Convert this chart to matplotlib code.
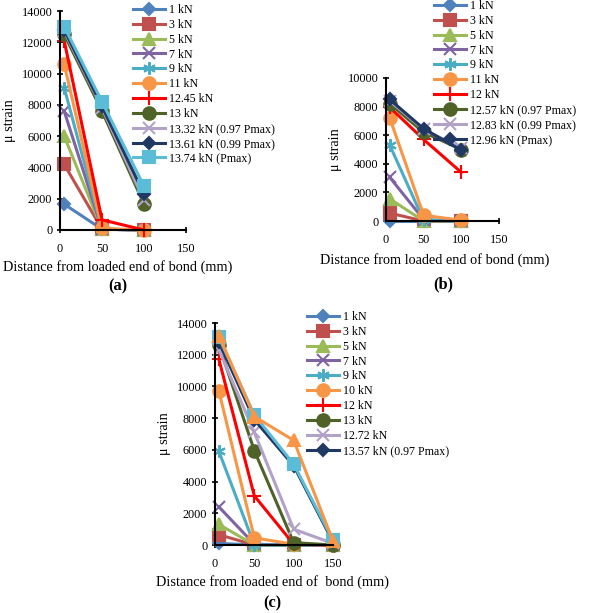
import numpy as np
import matplotlib
matplotlib.use("Agg")
import matplotlib.pyplot as plt

plt.rcParams['font.family'] = ['Liberation Serif', 'DejaVu Serif']

# distancias (mm)
dist_ab = [5, 50, 100]
dist_c = [5, 50, 100, 150]

# painel (a)
labels_a = ["1 kN", "3 kN", "5 kN", "7 kN", "9 kN", "11 kN", "12.45 kN", "13 kN",
            "13.32 kN (0.97 Pmax)", "13.61 kN (0.99 Pmax)", "13.74 kN (Pmax)"]
vals_a = [
    [1650, 50, 0],
    [4200, 50, 0],
    [6000, 50, 0],
    [7600, 50, 0],
    [9100, 50, 0],
    [10600, 100, 0],
    [12100, 650, 0],
    [12500, 7600, 1650],
    [12700, 7800, 1900],
    [12800, 7900, 2300],
    [13000, 8200, 2800],
]

# painel (b)
labels_b = ["1 kN", "3 kN", "5 kN", "7 kN", "9 kN", "11 kN", "12 kN",
            "12.57 kN (0.97 Pmax)", "12.83 kN (0.99 Pmax)", "12.96 kN (Pmax)"]
vals_b = [
    [0, 0, 0],
    [550, 0, 0],
    [1550, 0, 0],
    [3050, 100, 0],
    [5300, 50, 0],
    [7200, 400, 50],
    [7950, 5700, 3400],
    [8200, 6200, 5000],
    [8400, 6400, 5100],
    [8500, 6450, 4950],
]

# painel (c) - as duas ultimas series nao aparecem na legenda
labels_c = ["1 kN", "3 kN", "5 kN", "7 kN", "9 kN", "10 kN", "12 kN", "13 kN",
            "12.72 kN", "13.57 kN (0.97 Pmax)", "_sq", "_tri"]
vals_c = [
    [100, 0, 0, 0],
    [650, 0, 0, 0],
    [1300, 0, 0, 0],
    [2400, 50, 0, 0],
    [5900, 0, 0, 0],
    [9700, 450, 50, 0],
    [11700, 3100, 50, 0],
    [12600, 5950, 150, 0],
    [12300, 7100, 1000, 100],
    [12800, 7900, 5000, 200],
    [13100, 8200, 5100, 300],
    [13200, 8100, 6600, 250],
]

# estilos tipo excel
ast = (6, 2, 0)
sty = [
    ("#4F81BD", "D", 6),
    ("#C0504D", "s", 8),
    ("#9BBB59", "^", 8),
    ("#8064A2", "x", 8),
    ("#4BACC6", ast, 9),
    ("#F79646", "o", 9),
    ("#FF0000", "+", 10),
    ("#4F6228", "o", 9),
    ("#B3A2C7", "x", 8),
    ("#1F3864", "D", 6),
    ("#5BBCD8", "s", 8),
]
sty_c = sty[:6] + [sty[6], sty[7], sty[8], sty[9], sty[10], ("#F79646", "^", 9)]

fs_tick = 8.8
fs_lab = 10.3
fs_leg = 8.6

fig = plt.figure(figsize=(6.0, 6.13), dpi=100)
H = 613.0


def painel(rect, x, vals, labels, styles, ymax, leg_xy, lab_xy, xlabel, cap, cap_xy):
    ax = fig.add_axes(rect)
    for v, lb, (c, m, ms) in zip(vals, labels, styles):
        ax.plot(x, v, color=c, marker=m, ms=ms, lw=2.2, mew=1.5, label=lb, clip_on=False)
    ax.set_xlim(0, 150)
    ax.set_ylim(0, ymax)
    ax.set_xticks([0, 50, 100, 150])
    ax.set_yticks(np.arange(0, ymax + 1, 2000))
    ax.spines['top'].set_visible(False)
    ax.spines['right'].set_visible(False)
    ax.spines['left'].set_linewidth(1.5)
    ax.spines['bottom'].set_linewidth(1.5)
    ax.tick_params(direction='inout', length=5, width=1.2, labelsize=fs_tick)
    ax.tick_params(axis='x', pad=7)
    ax.tick_params(axis='y', pad=3)
    ax.set_ylabel("μ strain", fontsize=fs_lab, labelpad=4)
    fig.text(lab_xy[0] / 600, 1 - lab_xy[1] / H, xlabel, fontsize=fs_lab, ha='center', va='center')
    fig.text(cap_xy[0] / 600, 1 - cap_xy[1] / H, cap, fontsize=fs_lab + 1.5, fontweight='bold',
             ha='center', va='center')
    ax.legend(loc='upper left', bbox_to_anchor=(leg_xy[0] / 600, 1 - leg_xy[1] / H),
              bbox_transform=fig.transFigure, frameon=False, fontsize=fs_leg,
              handlelength=2.7, handletextpad=0.35, labelspacing=0.24,
              borderaxespad=0, borderpad=0)
    return ax


xl = "Distance from loaded end of bond (mm)"
painel([60 / 600, 1 - 230 / H, 126 / 600, 219 / H], dist_ab, vals_a, labels_a, sty, 14000,
       (133, 4), (118, 267), xl, "(a)", (118, 286))
painel([386 / 600, 1 - 221 / H, 113 / 600, 143 / H], dist_ab, vals_b, labels_b, sty, 10000,
       (434, 0), (435, 260), xl, "(b)", (443, 284))
painel([215 / 600, 1 - 545 / H, 118 / 600, 222 / H], dist_c, vals_c, labels_c, sty_c, 14000,
       (307, 311), (273, 582), "Distance from loaded end of  bond (mm)", "(c)", (272, 603))

fig.savefig("out.png", dpi=100)
